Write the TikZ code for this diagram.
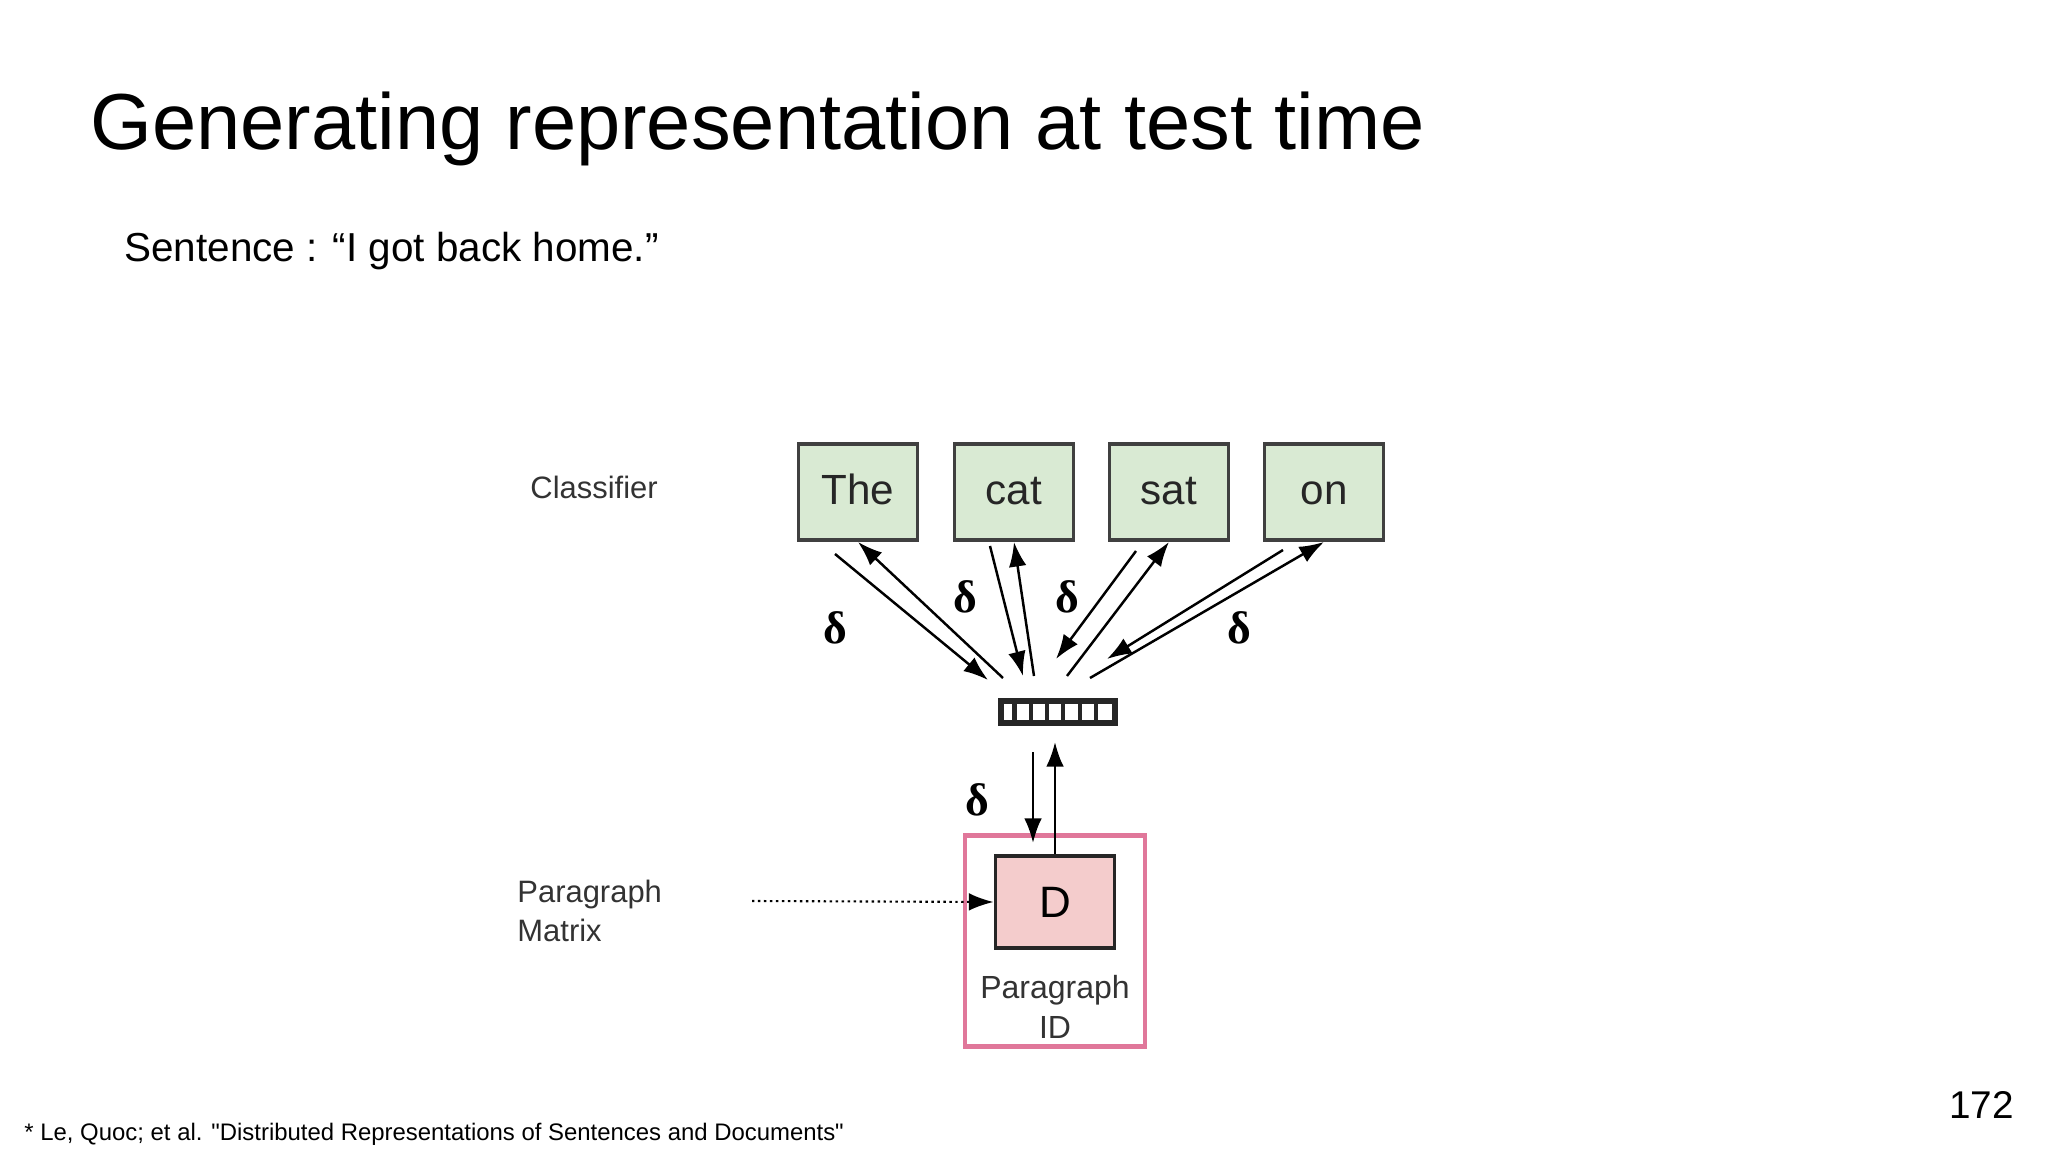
\documentclass[tikz,border=0pt]{standalone}
\usepackage{fontspec}
\setmainfont{Liberation Sans}
\newfontfamily\dserif{Liberation Serif}
\usetikzlibrary{arrows.meta}
\definecolor{gbox}{HTML}{D9EAD3}
\definecolor{pbox}{HTML}{F4CCCC}
\definecolor{pedge}{HTML}{E0779A}
\definecolor{lbl}{HTML}{333333}
\begin{document}
\begin{tikzpicture}[x=0.01cm,y=-0.01cm,
  word/.style={draw=black!75,line width=1.1pt,fill=gbox,minimum width=1.19cm,minimum height=0.96cm,inner sep=0pt},
  ar/.style={-{Latex[length=7pt,width=5pt]},line width=0.7pt},
  dl/.style={font=\dserif\bfseries\fontsize{13}{14}\selectfont},
  lab/.style={font=\fontsize{8.8}{11}\selectfont,text=lbl,align=left}]
\useasboundingbox (0,0) rectangle (2048,1152);
\node[anchor=base west,font=\fontsize{22.6}{26}\selectfont] (title) at (78,150) {Generating representation at test time};
\node[anchor=base west,font=\fontsize{11.5}{14}\selectfont] (sub) at (112,262) {Sentence : “I got back home.”};
\foreach \n/\x in {w1/858,w2/1014,w3/1169,w4/1324}
  \node[word] at (\x,492) (\n) {};
\foreach \n/\t in {w1/The,w2/cat,w3/sat,w4/on}
  \node[font=\fontsize{12}{14}\selectfont,text=black!85,anchor=base] (t\n) at ([yshift=-0.12cm]\n) {\t};
\node[lab,anchor=west] (cls) at (518,487) {Classifier};
% vector
\node[draw=black!85,line width=1.6pt,minimum width=1.14cm,minimum height=0.22cm,inner sep=0pt] (vec) at (1058,712) {};
\foreach \i in {1,...,6}
  \draw[line width=1.2pt,black!85] ([xshift=\i*0.1629cm]vec.north west) -- ([xshift=\i*0.1629cm]vec.south west);
\coordinate (a1s) at (835,554); \coordinate (a1e) at (988,680);
\coordinate (b1s) at (1003,678);
\coordinate (a2s) at (990,546); \coordinate (a2e) at (1023,676);
\coordinate (b2s) at (1034,676);
\coordinate (a3s) at (1136,551); \coordinate (a3e) at (1056,659);
\coordinate (b3s) at (1067,676);
\coordinate (a4s) at (1283,550); \coordinate (a4e) at (1107,659);
\coordinate (b4s) at (1090,678);
\draw[ar] (a1s) -- (a1e);
\draw[ar] (b1s) -- (w1.south);
\draw[ar] (a2s) -- (a2e);
\draw[ar] (b2s) -- (w2.south);
\draw[ar] (a3s) -- (a3e);
\draw[ar] (b3s) -- (w3.south);
\draw[ar] (a4s) -- (a4e);
\draw[ar] (b4s) -- (w4.south);
\node[dl] (d1) at (835,628) {δ};
\node[dl] (d2) at (965,597) {δ};
\node[dl] (d3) at (1067,597) {δ};
\node[dl] (d4) at (1239,628) {δ};
\node[dl] (d5) at (977,800) {δ};
% paragraph
\node[draw=pedge,line width=1.2pt,minimum width=1.8cm,minimum height=2.11cm,inner sep=0pt] (outer) at (1055,941) {};
\node[draw=black!85,line width=1.1pt,fill=pbox,minimum width=1.19cm,minimum height=0.92cm,inner sep=0pt,font=\fontsize{12.5}{14}\selectfont] (D) at (1055,902) {D};
\node[font=\fontsize{9.1}{11.5}\selectfont,align=center,text=lbl] (pid) at (1055,1007) {Paragraph\\ID};
\coordinate (dn1) at (1033,752); \coordinate (up1) at (1055,742);
\draw[ar] (dn1) -- (1033,843);
\draw[ar] (D.north) -- (up1);
\node[lab,anchor=west] (pm) at (505,911) {Paragraph\\Matrix};
\coordinate (ds) at (752,901);
\draw[ar,densely dotted,line width=0.6pt] (ds) -- (D.west);
\node[anchor=east,font=\fontsize{11}{13}\selectfont] (pg) at (2026,1105) {172};
\node[anchor=west,font=\fontsize{6.8}{8}\selectfont] (fn) at (12,1134) {* Le, Quoc; et al. \textquotedbl Distributed Representations of Sentences and Documents\textquotedbl};
\end{tikzpicture}
\end{document}
